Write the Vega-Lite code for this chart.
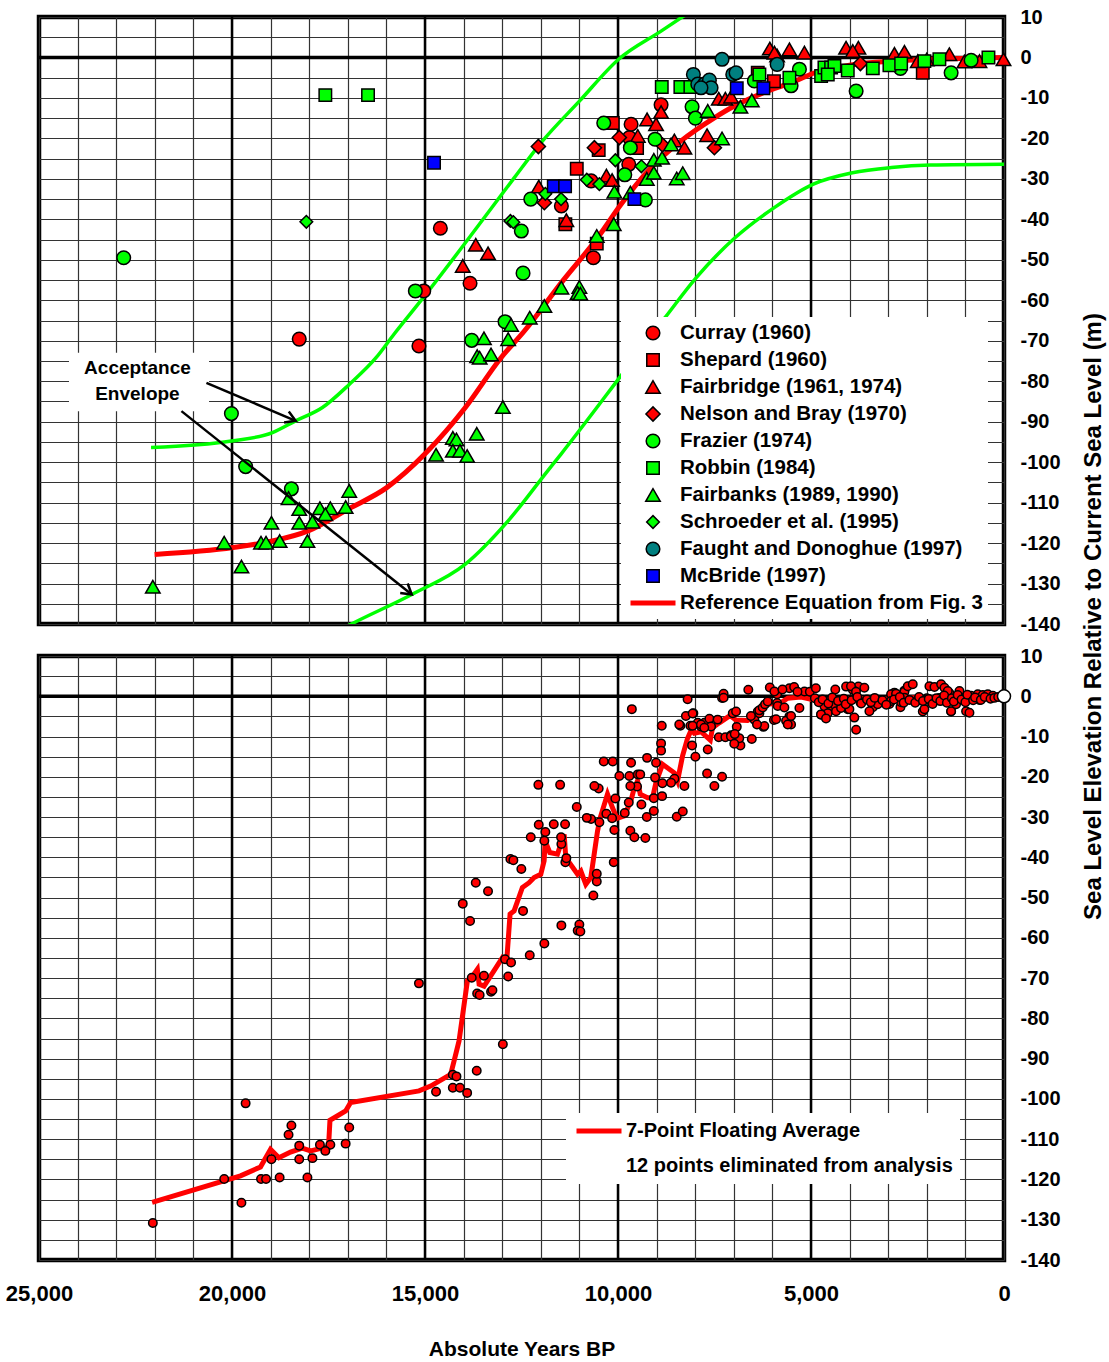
{
"$schema": "https://vega.github.io/schema/vega-lite/v6.json",
"padding": {"left": 3, "top": 4, "right": 5, "bottom": 5},
"bounds": "flush",
"spacing": 32,
"resolve": {
  "scale": {"color": "independent", "shape": "independent", "size": "independent", "stroke": "independent", "strokeWidth": "independent"},
  "legend": {"color": "independent", "shape": "independent", "size": "independent", "stroke": "independent", "strokeWidth": "independent"}
},
"config": {
  "font": "Liberation Sans",
  "view": {"stroke": "black", "strokeWidth": 4.5},
  "axis": {"labelFont": "Liberation Sans", "titleFont": "Liberation Sans", "labelColor": "black", "titleColor": "black"},
  "legend": {"labelFont": "Liberation Sans"}
},
"datasets": {
  "majors": [{"x":5000,"y":10,"y2":-140},{"x":10000,"y":10,"y2":-140},{"x":15000,"y":10,"y2":-140},{"x":20000,"y":10,"y2":-140}],
  "zero": [{"x":25000,"x2":0,"y":0}],
  "origin": [{"x":0,"y":0}],
  "lab": [{"x":22450,"y":-76.7,"t":"Acceptance\nEnvelope"}],
  "box": [{"x":24223,"x2":20595,"y":-73,"y2":-87.4}],
  "arrows": [{"x":20663,"y":-80.4,"x2":18351,"y2":-89.8},{"x":21310,"y":-87.4,"x2":15343,"y2":-132.7}],
  "heads": [{"k":"a","x":18351,"y":-89.8},{"k":"b","x":15343,"y":-132.7}],
  "env": [
    {"g":"u","x":22098,"y":-96.4},{"g":"u","x":20015,"y":-94.8},{"g":"u","x":18953,"y":-92.7},{"g":"u","x":18351,"y":-89.8},
    {"g":"u","x":17657,"y":-86.5},{"g":"u","x":16963,"y":-80.8},{"g":"u","x":16268,"y":-74.2},{"g":"u","x":15804,"y":-68.4},
    {"g":"u","x":15040,"y":-59.3},{"g":"u","x":13851,"y":-44.5},{"g":"u","x":12685,"y":-29.7},{"g":"u","x":11996,"y":-21.1},
    {"g":"u","x":11000,"y":-10.8},{"g":"u","x":9990,"y":-0.5},{"g":"u","x":8884,"y":6.5},{"g":"u","x":8100,"y":11.5},
    {"g":"l","x":17400,"y":-142.5},{"g":"l","x":17010,"y":-140.5},{"g":"l","x":15343,"y":-132.7},{"g":"l","x":13955,"y":-125.2},
    {"g":"l","x":12846,"y":-114.5},{"g":"l","x":11827,"y":-102.2},{"g":"l","x":11475,"y":-98},{"g":"l","x":9832,"y":-77.5},
    {"g":"l","x":8783,"y":-64.3},{"g":"l","x":7972,"y":-54.4},{"g":"l","x":6962,"y":-44.5},{"g":"l","x":5951,"y":-37.1},
    {"g":"l","x":4938,"y":-31.3},{"g":"l","x":3927,"y":-28.5},{"g":"l","x":2917,"y":-27.2},{"g":"l","x":1904,"y":-26.6},{"g":"l","x":0,"y":-26.4}
  ],
  "ref": [
    {"x":22005,"y":-122.8},{"x":19971,"y":-121.1},{"x":18953,"y":-119.5},{"x":18027,"y":-117},{"x":17010,"y":-111.7},
    {"x":15991,"y":-106.3},{"x":14973,"y":-97.7},{"x":13955,"y":-86.5},{"x":13030,"y":-74.2},{"x":12426,"y":-67.6},
    {"x":11431,"y":-55.2},{"x":10524,"y":-44.5},{"x":9920,"y":-36.3},{"x":9229,"y":-28.1},{"x":8366,"y":-20.6},
    {"x":7503,"y":-14.9},{"x":6985,"y":-12},{"x":6200,"y":-8.6},{"x":5447,"y":-6.0},{"x":4938,"y":-3.9},
    {"x":3927,"y":-1.8},{"x":2900,"y":-0.9},{"x":1904,"y":-0.45},{"x":0,"y":0}
  ],
  "avg": [
    {"lg":"7-Point Floating Average","x":22070,"y":-125.7},{"lg":"7-Point Floating Average","x":19780,"y":-119.1},
    {"lg":"7-Point Floating Average","x":19262,"y":-116.9},{"lg":"7-Point Floating Average","x":19002,"y":-112.5},
    {"lg":"7-Point Floating Average","x":18785,"y":-114.6},{"lg":"7-Point Floating Average","x":18484,"y":-113.2},
    {"lg":"7-Point Floating Average","x":18180,"y":-112.2},{"lg":"7-Point Floating Average","x":17965,"y":-112.9},
    {"lg":"7-Point Floating Average","x":17618,"y":-112.1},{"lg":"7-Point Floating Average","x":17500,"y":-112.0},
    {"lg":"7-Point Floating Average","x":17462,"y":-105.3},{"lg":"7-Point Floating Average","x":17056,"y":-103},
    {"lg":"7-Point Floating Average","x":16927,"y":-100.9},{"lg":"7-Point Floating Average","x":15154,"y":-98},
    {"lg":"7-Point Floating Average","x":14854,"y":-96.8},{"lg":"7-Point Floating Average","x":14335,"y":-93.9},
    {"lg":"7-Point Floating Average","x":14248,"y":-90.6},{"lg":"7-Point Floating Average","x":14118,"y":-85.6},
    {"lg":"7-Point Floating Average","x":13902,"y":-70.7},{"lg":"7-Point Floating Average","x":13798,"y":-69.9},
    {"lg":"7-Point Floating Average","x":13643,"y":-67.8},{"lg":"7-Point Floating Average","x":13598,"y":-71.5},
    {"lg":"7-Point Floating Average","x":13469,"y":-72},{"lg":"7-Point Floating Average","x":12994,"y":-64.9},
    {"lg":"7-Point Floating Average","x":12883,"y":-65.7},{"lg":"7-Point Floating Average","x":12796,"y":-54.1},
    {"lg":"7-Point Floating Average","x":12692,"y":-53.3},{"lg":"7-Point Floating Average","x":12477,"y":-47.5},
    {"lg":"7-Point Floating Average","x":12303,"y":-46.3},{"lg":"7-Point Floating Average","x":12173,"y":-45},
    {"lg":"7-Point Floating Average","x":12000,"y":-44.2},{"lg":"7-Point Floating Average","x":11914,"y":-40.9},
    {"lg":"7-Point Floating Average","x":11888,"y":-35.9},{"lg":"7-Point Floating Average","x":11768,"y":-38.8},
    {"lg":"7-Point Floating Average","x":11568,"y":-39.2},{"lg":"7-Point Floating Average","x":11395,"y":-34.3},
    {"lg":"7-Point Floating Average","x":11352,"y":-40.1},{"lg":"7-Point Floating Average","x":11049,"y":-44.2},
    {"lg":"7-Point Floating Average","x":10963,"y":-43.4},{"lg":"7-Point Floating Average","x":10834,"y":-46.7},
    {"lg":"7-Point Floating Average","x":10704,"y":-45},{"lg":"7-Point Floating Average","x":10531,"y":-33.5},
    {"lg":"7-Point Floating Average","x":10461,"y":-30.2},{"lg":"7-Point Floating Average","x":10272,"y":-24.3},
    {"lg":"7-Point Floating Average","x":10142,"y":-27.7},{"lg":"7-Point Floating Average","x":10030,"y":-30.3},
    {"lg":"7-Point Floating Average","x":9841,"y":-29.7},{"lg":"7-Point Floating Average","x":9667,"y":-26},
    {"lg":"7-Point Floating Average","x":9598,"y":-23.5},{"lg":"7-Point Floating Average","x":9494,"y":-21},
    {"lg":"7-Point Floating Average","x":9424,"y":-24.3},{"lg":"7-Point Floating Average","x":9235,"y":-25.2},
    {"lg":"7-Point Floating Average","x":9105,"y":-25.2},{"lg":"7-Point Floating Average","x":9019,"y":-21.5},
    {"lg":"7-Point Floating Average","x":8846,"y":-16.9},{"lg":"7-Point Floating Average","x":8543,"y":-19},
    {"lg":"7-Point Floating Average","x":8457,"y":-21},{"lg":"7-Point Floating Average","x":8327,"y":-14.8},
    {"lg":"7-Point Floating Average","x":8200,"y":-10.5},{"lg":"7-Point Floating Average","x":8100,"y":-8.3},
    {"lg":"7-Point Floating Average","x":8024,"y":-9.2},{"lg":"7-Point Floating Average","x":7850,"y":-8.8},
    {"lg":"7-Point Floating Average","x":7609,"y":-10.9},{"lg":"7-Point Floating Average","x":7550,"y":-7.8},
    {"lg":"7-Point Floating Average","x":7376,"y":-6.6},{"lg":"7-Point Floating Average","x":7100,"y":-4.8},
    {"lg":"7-Point Floating Average","x":6945,"y":-5.9},{"lg":"7-Point Floating Average","x":6642,"y":-6},
    {"lg":"7-Point Floating Average","x":6512,"y":-5.3},{"lg":"7-Point Floating Average","x":6382,"y":-3.7},
    {"lg":"7-Point Floating Average","x":6122,"y":-2},{"lg":"7-Point Floating Average","x":5778,"y":-1.6},
    {"lg":"7-Point Floating Average","x":5602,"y":-0.5},{"lg":"7-Point Floating Average","x":5258,"y":-0.2},
    {"lg":"7-Point Floating Average","x":4999,"y":-0.75},{"lg":"7-Point Floating Average","x":4653,"y":-1},
    {"lg":"7-Point Floating Average","x":3964,"y":-0.5},{"lg":"7-Point Floating Average","x":3271,"y":-0.75},
    {"lg":"7-Point Floating Average","x":2407,"y":-0.35},{"lg":"7-Point Floating Average","x":1706,"y":-0.35},
    {"lg":"7-Point Floating Average","x":929,"y":-1.2},{"lg":"7-Point Floating Average","x":418,"y":-0.35},
    {"lg":"7-Point Floating Average","x":0,"y":0}
  ],
  "pts": [
    {"s":"Curray (1960)","x":18258,"y":-69.6,"p":"t"},{"s":"Curray (1960)","x":15157,"y":-71.3,"p":"b"},
    {"s":"Curray (1960)","x":14602,"y":-42.2,"p":"t"},{"s":"Curray (1960)","x":13833,"y":-55.8,"p":"b"},
    {"s":"Curray (1960)","x":15033,"y":-57.7,"p":"t"},{"s":"Curray (1960)","x":11467,"y":-36.7,"p":"b"},
    {"s":"Curray (1960)","x":10697,"y":-30.5,"p":"b"},{"s":"Curray (1960)","x":10638,"y":-49.5,"p":"b"},
    {"s":"Curray (1960)","x":9721,"y":-26.4,"p":"b"},{"s":"Curray (1960)","x":9705,"y":-19.8,"p":"b"},
    {"s":"Curray (1960)","x":9661,"y":-16.5,"p":"b"},{"s":"Curray (1960)","x":8884,"y":-11.7,"p":"b"},
    {"s":"Shepard (1960)","x":11364,"y":-41.2,"p":"b"},{"s":"Shepard (1960)","x":10550,"y":-46.0,"p":"b"},
    {"s":"Shepard (1960)","x":11068,"y":-27.5,"p":"b"},{"s":"Shepard (1960)","x":10500,"y":-22.9,"p":"b"},
    {"s":"Shepard (1960)","x":10135,"y":-16.2,"p":"b"},{"s":"Shepard (1960)","x":9506,"y":-22.4,"p":"b"},
    {"s":"Shepard (1960)","x":6379,"y":-3.8,"p":"b"},{"s":"Shepard (1960)","x":5960,"y":-5.9,"p":"b"},
    {"s":"Shepard (1960)","x":2104,"y":-3.8,"p":"b"},
    {"s":"Fairbridge (1961, 1974)","x":13685,"y":-46.3,"p":"b"},{"s":"Fairbridge (1961, 1974)","x":13367,"y":-48.4,"p":"b"},
    {"s":"Fairbridge (1961, 1974)","x":14022,"y":-51.5,"p":"b"},{"s":"Fairbridge (1961, 1974)","x":12053,"y":-31.9,"p":"b"},
    {"s":"Fairbridge (1961, 1974)","x":11338,"y":-40.2,"p":"b"},{"s":"Fairbridge (1961, 1974)","x":10301,"y":-29.2,"p":"b"},
    {"s":"Fairbridge (1961, 1974)","x":10153,"y":-30.3,"p":"b"},{"s":"Fairbridge (1961, 1974)","x":9487,"y":-19.4,"p":"b"},
    {"s":"Fairbridge (1961, 1974)","x":9247,"y":-15.3,"p":"b"},{"s":"Fairbridge (1961, 1974)","x":9014,"y":-16.5,"p":"b"},
    {"s":"Fairbridge (1961, 1974)","x":8884,"y":-13.5,"p":"b"},{"s":"Fairbridge (1961, 1974)","x":8539,"y":-20.5,"p":"b"},
    {"s":"Fairbridge (1961, 1974)","x":8280,"y":-22.3,"p":"b"},{"s":"Fairbridge (1961, 1974)","x":7692,"y":-19.2,"p":"b"},
    {"s":"Fairbridge (1961, 1974)","x":7389,"y":-10.2,"p":"b"},{"s":"Fairbridge (1961, 1974)","x":7218,"y":-10.2,"p":"b"},
    {"s":"Fairbridge (1961, 1974)","x":7070,"y":-9.7,"p":"b"},{"s":"Fairbridge (1961, 1974)","x":6067,"y":2.2,"p":"b"},
    {"s":"Fairbridge (1961, 1974)","x":5878,"y":0.5,"p":"b"},{"s":"Fairbridge (1961, 1974)","x":5559,"y":2.0,"p":"b"},
    {"s":"Fairbridge (1961, 1974)","x":5171,"y":1.2,"p":"b"},{"s":"Fairbridge (1961, 1974)","x":5948,"y":1.2,"p":"b"},
    {"s":"Fairbridge (1961, 1974)","x":4091,"y":2.4,"p":"b"},{"s":"Fairbridge (1961, 1974)","x":3772,"y":2.4,"p":"b"},
    {"s":"Fairbridge (1961, 1974)","x":3917,"y":1.6,"p":"b"},{"s":"Fairbridge (1961, 1974)","x":2839,"y":0.9,"p":"b"},
    {"s":"Fairbridge (1961, 1974)","x":2580,"y":1.4,"p":"b"},{"s":"Fairbridge (1961, 1974)","x":2234,"y":-0.9,"p":"b"},
    {"s":"Fairbridge (1961, 1974)","x":2000,"y":-0.5,"p":"b"},{"s":"Fairbridge (1961, 1974)","x":1415,"y":0.8,"p":"b"},
    {"s":"Fairbridge (1961, 1974)","x":1025,"y":-1.0,"p":"b"},{"s":"Fairbridge (1961, 1974)","x":636,"y":-0.9,"p":"b"},
    {"s":"Fairbridge (1961, 1974)","x":13,"y":-0.45,"p":"b"},
    {"s":"Nelson and Bray (1970)","x":12063,"y":-22.0,"p":"b"},{"s":"Nelson and Bray (1970)","x":11908,"y":-35.9,"p":"b"},
    {"s":"Nelson and Bray (1970)","x":10612,"y":-22.3,"p":"b"},{"s":"Nelson and Bray (1970)","x":9965,"y":-19.8,"p":"b"},
    {"s":"Nelson and Bray (1970)","x":8850,"y":-21.6,"p":"b"},{"s":"Nelson and Bray (1970)","x":7503,"y":-22.3,"p":"b"},
    {"s":"Nelson and Bray (1970)","x":3720,"y":-1.5,"p":"b"},
    {"s":"Frazier (1974)","x":22806,"y":-49.5,"p":"t"},{"s":"Frazier (1974)","x":15250,"y":-57.7,"p":"t"},
    {"s":"Frazier (1974)","x":20015,"y":-88.0,"p":"t"},{"s":"Frazier (1974)","x":12260,"y":-35.0,"p":"b"},
    {"s":"Frazier (1974)","x":12504,"y":-42.9,"p":"b"},{"s":"Frazier (1974)","x":12460,"y":-53.3,"p":"b"},
    {"s":"Frazier (1974)","x":12926,"y":-65.3,"p":"b"},{"s":"Frazier (1974)","x":13789,"y":-69.9,"p":"b"},
    {"s":"Frazier (1974)","x":9291,"y":-35.2,"p":"b"},{"s":"Frazier (1974)","x":9825,"y":-29.0,"p":"b"},
    {"s":"Frazier (1974)","x":10369,"y":-16.2,"p":"b"},{"s":"Frazier (1974)","x":9680,"y":-22.3,"p":"b"},
    {"s":"Frazier (1974)","x":9040,"y":-20.2,"p":"b"},{"s":"Frazier (1974)","x":8081,"y":-12.2,"p":"b"},
    {"s":"Frazier (1974)","x":7995,"y":-15.0,"p":"b"},{"s":"Frazier (1974)","x":6467,"y":-5.8,"p":"b"},
    {"s":"Frazier (1974)","x":5516,"y":-7.0,"p":"b"},{"s":"Frazier (1974)","x":5300,"y":-2.9,"p":"b"},
    {"s":"Frazier (1974)","x":3831,"y":-8.3,"p":"b"},{"s":"Frazier (1974)","x":2683,"y":-2.7,"p":"b"},
    {"s":"Frazier (1974)","x":1370,"y":-3.8,"p":"b"},{"s":"Frazier (1974)","x":852,"y":-0.7,"p":"b"},
    {"s":"Frazier (1974)","x":19647,"y":-101.1,"p":"b"},{"s":"Frazier (1974)","x":18461,"y":-106.6,"p":"b"},
    {"s":"Robbin (1984)","x":17582,"y":-9.3,"p":"t"},{"s":"Robbin (1984)","x":16476,"y":-9.3,"p":"t"},
    {"s":"Robbin (1984)","x":8866,"y":-7.3,"p":"b"},{"s":"Robbin (1984)","x":8384,"y":-7.3,"p":"b"},
    {"s":"Robbin (1984)","x":8125,"y":-7.3,"p":"b"},{"s":"Robbin (1984)","x":6337,"y":-4.2,"p":"b"},
    {"s":"Robbin (1984)","x":5559,"y":-5.0,"p":"b"},{"s":"Robbin (1984)","x":4738,"y":-4.6,"p":"b"},
    {"s":"Robbin (1984)","x":4652,"y":-2.5,"p":"b"},{"s":"Robbin (1984)","x":4479,"y":-2.5,"p":"b"},
    {"s":"Robbin (1984)","x":4393,"y":-2.1,"p":"b"},{"s":"Robbin (1984)","x":4565,"y":-4.2,"p":"b"},
    {"s":"Robbin (1984)","x":4047,"y":-3.2,"p":"b"},{"s":"Robbin (1984)","x":3399,"y":-2.7,"p":"b"},
    {"s":"Robbin (1984)","x":2968,"y":-1.9,"p":"b"},{"s":"Robbin (1984)","x":2665,"y":-1.5,"p":"b"},
    {"s":"Robbin (1984)","x":2062,"y":-0.9,"p":"b"},{"s":"Robbin (1984)","x":1674,"y":-0.45,"p":"b"},
    {"s":"Robbin (1984)","x":403,"y":0,"p":"b"},
    {"s":"Fairbanks (1989, 1990)","x":22051,"y":-130.8,"p":"b"},{"s":"Fairbanks (1989, 1990)","x":20202,"y":-119.9,"p":"b"},
    {"s":"Fairbanks (1989, 1990)","x":19756,"y":-125.8,"p":"b"},{"s":"Fairbanks (1989, 1990)","x":19248,"y":-119.9,"p":"b"},
    {"s":"Fairbanks (1989, 1990)","x":19118,"y":-119.9,"p":"b"},{"s":"Fairbanks (1989, 1990)","x":18766,"y":-119.5,"p":"b"},
    {"s":"Fairbanks (1989, 1990)","x":18979,"y":-115.0,"p":"b"},{"s":"Fairbanks (1989, 1990)","x":18258,"y":-115.0,"p":"b"},
    {"s":"Fairbanks (1989, 1990)","x":17916,"y":-114.7,"p":"b"},{"s":"Fairbanks (1989, 1990)","x":18046,"y":-119.5,"p":"b"},
    {"s":"Fairbanks (1989, 1990)","x":18535,"y":-108.9,"p":"b"},{"s":"Fairbanks (1989, 1990)","x":18258,"y":-111.6,"p":"b"},
    {"s":"Fairbanks (1989, 1990)","x":17722,"y":-111.4,"p":"b"},{"s":"Fairbanks (1989, 1990)","x":17452,"y":-111.4,"p":"b"},
    {"s":"Fairbanks (1989, 1990)","x":17582,"y":-112.9,"p":"b"},{"s":"Fairbanks (1989, 1990)","x":17056,"y":-111.1,"p":"b"},
    {"s":"Fairbanks (1989, 1990)","x":16963,"y":-107.1,"p":"b"},{"s":"Fairbanks (1989, 1990)","x":14714,"y":-98.2,"p":"b"},
    {"s":"Fairbanks (1989, 1990)","x":14279,"y":-94.0,"p":"b"},{"s":"Fairbanks (1989, 1990)","x":14185,"y":-94.4,"p":"b"},
    {"s":"Fairbanks (1989, 1990)","x":14279,"y":-97.2,"p":"b"},{"s":"Fairbanks (1989, 1990)","x":14094,"y":-97.2,"p":"b"},
    {"s":"Fairbanks (1989, 1990)","x":13908,"y":-98.5,"p":"b"},{"s":"Fairbanks (1989, 1990)","x":13660,"y":-93.0,"p":"b"},
    {"s":"Fairbanks (1989, 1990)","x":12983,"y":-86.4,"p":"b"},{"s":"Fairbanks (1989, 1990)","x":13649,"y":-73.8,"p":"b"},
    {"s":"Fairbanks (1989, 1990)","x":13584,"y":-74.2,"p":"b"},{"s":"Fairbanks (1989, 1990)","x":13289,"y":-73.4,"p":"b"},
    {"s":"Fairbanks (1989, 1990)","x":13473,"y":-69.4,"p":"b"},{"s":"Fairbanks (1989, 1990)","x":12846,"y":-69.6,"p":"b"},
    {"s":"Fairbanks (1989, 1990)","x":12770,"y":-66.1,"p":"b"},{"s":"Fairbanks (1989, 1990)","x":12286,"y":-64.3,"p":"b"},
    {"s":"Fairbanks (1989, 1990)","x":11908,"y":-61.4,"p":"b"},{"s":"Fairbanks (1989, 1990)","x":11467,"y":-56.9,"p":"b"},
    {"s":"Fairbanks (1989, 1990)","x":11001,"y":-56.7,"p":"b"},{"s":"Fairbanks (1989, 1990)","x":11044,"y":-58.2,"p":"b"},
    {"s":"Fairbanks (1989, 1990)","x":10975,"y":-58.4,"p":"b"},{"s":"Fairbanks (1989, 1990)","x":10550,"y":-44.1,"p":"b"},
    {"s":"Fairbanks (1989, 1990)","x":10110,"y":-41.2,"p":"b"},{"s":"Fairbanks (1989, 1990)","x":9680,"y":-33.4,"p":"b"},
    {"s":"Fairbanks (1989, 1990)","x":10094,"y":-33.2,"p":"b"},{"s":"Fairbanks (1989, 1990)","x":9254,"y":-30.0,"p":"b"},
    {"s":"Fairbanks (1989, 1990)","x":9072,"y":-28.5,"p":"b"},{"s":"Fairbanks (1989, 1990)","x":9072,"y":-25.3,"p":"b"},
    {"s":"Fairbanks (1989, 1990)","x":8858,"y":-24.8,"p":"b"},{"s":"Fairbanks (1989, 1990)","x":8478,"y":-29.9,"p":"b"},
    {"s":"Fairbanks (1989, 1990)","x":8322,"y":-28.6,"p":"b"},{"s":"Fairbanks (1989, 1990)","x":8625,"y":-21.5,"p":"b"},
    {"s":"Fairbanks (1989, 1990)","x":7675,"y":-13.2,"p":"b"},{"s":"Fairbanks (1989, 1990)","x":7304,"y":-20.0,"p":"b"},
    {"s":"Fairbanks (1989, 1990)","x":6829,"y":-12.2,"p":"b"},{"s":"Fairbanks (1989, 1990)","x":6534,"y":-10.6,"p":"b"},
    {"s":"Schroeder et al. (1995)","x":18074,"y":-40.6,"p":"t"},{"s":"Schroeder et al. (1995)","x":12788,"y":-40.4,"p":"b"},
    {"s":"Schroeder et al. (1995)","x":12711,"y":-40.7,"p":"b"},{"s":"Schroeder et al. (1995)","x":11882,"y":-33.7,"p":"b"},
    {"s":"Schroeder et al. (1995)","x":11475,"y":-35.0,"p":"b"},{"s":"Schroeder et al. (1995)","x":10809,"y":-30.2,"p":"b"},
    {"s":"Schroeder et al. (1995)","x":10482,"y":-31.3,"p":"b"},{"s":"Schroeder et al. (1995)","x":10068,"y":-25.4,"p":"b"},
    {"s":"Schroeder et al. (1995)","x":9394,"y":-26.9,"p":"b"},
    {"s":"Faught and Donoghue (1997)","x":7304,"y":-0.45,"p":"b"},{"s":"Faught and Donoghue (1997)","x":8047,"y":-4.2,"p":"b"},
    {"s":"Faught and Donoghue (1997)","x":7933,"y":-6.6,"p":"b"},{"s":"Faught and Donoghue (1997)","x":7762,"y":-6.6,"p":"b"},
    {"s":"Faught and Donoghue (1997)","x":7632,"y":-5.6,"p":"b"},{"s":"Faught and Donoghue (1997)","x":7589,"y":-7.5,"p":"b"},
    {"s":"Faught and Donoghue (1997)","x":7850,"y":-7.5,"p":"b"},{"s":"Faught and Donoghue (1997)","x":7027,"y":-4.2,"p":"b"},
    {"s":"Faught and Donoghue (1997)","x":6941,"y":-3.8,"p":"b"},{"s":"Faught and Donoghue (1997)","x":5878,"y":-1.7,"p":"b"},
    {"s":"McBride (1997)","x":14766,"y":-26.0,"p":"t"},{"s":"McBride (1997)","x":11664,"y":-31.8,"p":"b"},
    {"s":"McBride (1997)","x":11371,"y":-31.8,"p":"b"},{"s":"McBride (1997)","x":9576,"y":-35.0,"p":"b"},
    {"s":"McBride (1997)","x":6923,"y":-7.6,"p":"b"},{"s":"McBride (1997)","x":6233,"y":-7.6,"p":"b"},
    {"s":"","x":9641,"y":-3.2,"p":"m"},{"s":"","x":8197,"y":-0.75,"p":"m"},{"s":"","x":7264,"y":0.6,"p":"m"},
    {"s":"","x":7264,"y":-0.35,"p":"m"},{"s":"","x":6624,"y":1.6,"p":"m"},{"s":"","x":11499,"y":-22,"p":"m"},
    {"s":"","x":6858,"y":-10.4,"p":"m"},{"s":"","x":9424,"y":-19.4,"p":"m"},{"s":"","x":13253,"y":-73,"p":"m"},
    {"s":"","x":5740,"y":1.7,"p":"m"},{"s":"","x":5437,"y":2.3,"p":"m"},{"s":"","x":5350,"y":1.1,"p":"m"},
    {"s":"","x":5030,"y":1.1,"p":"m"},{"s":"","x":4874,"y":2.0,"p":"m"},{"s":"","x":4371,"y":1.7,"p":"m"},
    {"s":"","x":3964,"y":2.5,"p":"m"},{"s":"","x":3834,"y":1.1,"p":"m"},{"s":"","x":3618,"y":2.1,"p":"m"},
    {"s":"","x":2926,"y":0.5,"p":"m"},{"s":"","x":2797,"y":0.6,"p":"m"},{"s":"","x":2580,"y":1.1,"p":"m"},
    {"s":"","x":2494,"y":2.5,"p":"m"},{"s":"","x":2364,"y":3.0,"p":"m"},{"s":"","x":1932,"y":2.5,"p":"m"},
    {"s":"","x":1802,"y":2.3,"p":"m"},{"s":"","x":1629,"y":3.0,"p":"m"},{"s":"","x":1543,"y":2.1,"p":"m"},
    {"s":"","x":1457,"y":1.3,"p":"m"},{"s":"","x":1154,"y":1.3,"p":"m"},{"s":"","x":852,"y":0.1,"p":"m"},
    {"s":"","x":679,"y":0.5,"p":"m"},{"s":"","x":549,"y":0.3,"p":"m"},{"s":"","x":419,"y":0.5,"p":"m"},
    {"s":"","x":289,"y":0.1,"p":"m"},{"s":"","x":4741,"y":-4.5,"p":"m"},{"s":"","x":4611,"y":-5.5,"p":"m"},
    {"s":"","x":4352,"y":-3.7,"p":"m"},{"s":"","x":4222,"y":-2.9,"p":"m"},{"s":"","x":4005,"y":-3.2,"p":"m"},
    {"s":"","x":3487,"y":-3.7,"p":"m"},{"s":"","x":3271,"y":-2.0,"p":"m"},{"s":"","x":2926,"y":-1.2,"p":"m"},
    {"s":"","x":2580,"y":-0.35,"p":"m"},{"s":"","x":2062,"y":-3.2,"p":"m"},{"s":"","x":1371,"y":-3.7,"p":"m"},
    {"s":"","x":1241,"y":-2.0,"p":"m"},{"s":"","x":982,"y":-3.7,"p":"m"},{"s":"","x":895,"y":-4.1,"p":"m"},
    {"s":"","x":3877,"y":-5.3,"p":"m"},{"s":"","x":8413,"y":-7.0,"p":"m"},{"s":"","x":8241,"y":-4.9,"p":"m"},
    {"s":"","x":8067,"y":-4.3,"p":"m"},{"s":"","x":8067,"y":-7.3,"p":"m"},{"s":"","x":7851,"y":-7.0,"p":"m"},
    {"s":"","x":7764,"y":-7.8,"p":"m"},{"s":"","x":7419,"y":-5.8,"p":"m"},{"s":"","x":7075,"y":-10.0,"p":"m"},
    {"s":"","x":6988,"y":-11.8,"p":"m"},{"s":"","x":6975,"y":-9.4,"p":"m"},{"s":"","x":6556,"y":-4.9,"p":"m"},
    {"s":"","x":6338,"y":-3.5,"p":"m"},{"s":"","x":6252,"y":-2.8,"p":"m"},{"s":"","x":6191,"y":-2.0,"p":"m"},
    {"s":"","x":6121,"y":-1.3,"p":"m"},{"s":"","x":5862,"y":-2.4,"p":"m"},{"s":"","x":5689,"y":-2.8,"p":"m"},
    {"s":"","x":5646,"y":-6.1,"p":"m"},{"s":"","x":5516,"y":-4.9,"p":"m"},{"s":"","x":5905,"y":-5.7,"p":"m"},
    {"s":"","x":5602,"y":-7.0,"p":"m"},{"s":"","x":6209,"y":-7.4,"p":"m"},{"s":"","x":6399,"y":-7.0,"p":"m"},
    {"s":"","x":4900,"y":-0.5,"p":"m"},{"s":"","x":4800,"y":-1.5,"p":"m"},{"s":"","x":4700,"y":-0.8,"p":"m"},
    {"s":"","x":4550,"y":-1.8,"p":"m"},{"s":"","x":4450,"y":-0.3,"p":"m"},{"s":"","x":4300,"y":-1.2,"p":"m"},
    {"s":"","x":4150,"y":-0.6,"p":"m"},{"s":"","x":4100,"y":-2.0,"p":"m"},{"s":"","x":3950,"y":-1.0,"p":"m"},
    {"s":"","x":3800,"y":-0.2,"p":"m"},{"s":"","x":3700,"y":-1.8,"p":"m"},{"s":"","x":3550,"y":-0.8,"p":"m"},
    {"s":"","x":3450,"y":-1.5,"p":"m"},{"s":"","x":3350,"y":-0.4,"p":"m"},{"s":"","x":3150,"y":-1.0,"p":"m"},
    {"s":"","x":3050,"y":-2.1,"p":"m"},{"s":"","x":2850,"y":-0.8,"p":"m"},{"s":"","x":2700,"y":-0.2,"p":"m"},
    {"s":"","x":2600,"y":-1.6,"p":"m"},{"s":"","x":2450,"y":-0.9,"p":"m"},{"s":"","x":2300,"y":-1.6,"p":"m"},
    {"s":"","x":2200,"y":-0.2,"p":"m"},{"s":"","x":2100,"y":-1.2,"p":"m"},{"s":"","x":1950,"y":-0.7,"p":"m"},
    {"s":"","x":1850,"y":-1.9,"p":"m"},{"s":"","x":1750,"y":-0.5,"p":"m"},{"s":"","x":1650,"y":-1.2,"p":"m"},
    {"s":"","x":1550,"y":0.2,"p":"m"},{"s":"","x":1480,"y":-1.6,"p":"m"},{"s":"","x":1350,"y":-0.5,"p":"m"},
    {"s":"","x":1300,"y":-1.3,"p":"m"},{"s":"","x":1200,"y":0.3,"p":"m"},{"s":"","x":1100,"y":-0.8,"p":"m"},
    {"s":"","x":1000,"y":-1.5,"p":"m"},{"s":"","x":950,"y":0.4,"p":"m"},{"s":"","x":800,"y":-1.0,"p":"m"},
    {"s":"","x":750,"y":-0.3,"p":"m"},{"s":"","x":600,"y":-0.9,"p":"m"},{"s":"","x":500,"y":-0.2,"p":"m"},
    {"s":"","x":350,"y":-0.6,"p":"m"},{"s":"","x":250,"y":-0.4,"p":"m"},{"s":"","x":150,"y":-0.2,"p":"m"}
  ]
},
"vconcat": [
  {
    "width": 965, "height": 607,
    "encoding": {
      "x": {"field": "x", "type": "quantitative",
        "scale": {"domain": [0, 25000], "reverse": true, "nice": false, "zero": false},
        "axis": {"values": [0,1000,2000,3000,4000,5000,6000,7000,8000,9000,10000,11000,12000,13000,14000,15000,16000,17000,18000,19000,20000,21000,22000,23000,24000,25000],
                 "grid": true, "gridColor": "#333333", "gridWidth": 1.2, "labels": false, "ticks": false, "domain": false, "title": null}},
      "y": {"field": "y", "type": "quantitative",
        "scale": {"domain": [-140, 10], "nice": false, "zero": false},
        "axis": {"orient": "right", "values": [10,5,0,-5,-10,-15,-20,-25,-30,-35,-40,-45,-50,-55,-60,-65,-70,-75,-80,-85,-90,-95,-100,-105,-110,-115,-120,-125,-130,-135,-140],
                 "grid": true, "gridColor": "#333333", "gridWidth": 1.2, "ticks": false, "domain": false,
                 "labelExpr": "datum.value % 10 === 0 ? '' + datum.value : ''", "labelOverlap": false,
                 "labelFontSize": 20, "labelFontWeight": "bold", "labelPadding": 16,
                 "title": "Sea Level Elevation Relative to Current Sea Level (m)",
                 "titleFontSize": 24, "titleFontWeight": "bold", "titleAngle": 270,
                 "titleX": 96, "titleY": 599, "titleAlign": "center", "titleBaseline": "alphabetic"}}
    },
    "layer": [
      {"data": {"name": "majors"}, "mark": {"type": "rule", "color": "black", "strokeWidth": 2.5},
       "encoding": {"y2": {"field": "y2"}}},
      {"data": {"name": "zero"}, "mark": {"type": "rule", "color": "black", "strokeWidth": 3.5},
       "encoding": {"x2": {"field": "x2"}}},
      {"data": {"name": "env"}, "mark": {"type": "line", "color": "#00FF00", "strokeWidth": 3.5, "interpolate": "monotone", "clip": true},
       "encoding": {"detail": {"field": "g"}}},
      {"data": {"name": "ref"}, "mark": {"type": "line", "color": "#FF0000", "strokeWidth": 5, "interpolate": "monotone", "clip": true}},
      {"data": {"name": "pts"}, "transform": [{"filter": "datum.p != 'm'"}],
       "mark": {"type": "point", "filled": true, "opacity": 1},
       "encoding": {
         "color": {"field": "s", "type": "nominal",
           "scale": {"domain": ["Curray (1960)","Shepard (1960)","Fairbridge (1961, 1974)","Nelson and Bray (1970)","Frazier (1974)","Robbin (1984)","Fairbanks (1989, 1990)","Schroeder et al. (1995)","Faught and Donoghue (1997)","McBride (1997)","Reference Equation from Fig. 3"],
                     "range": ["#FF0000","#FF0000","#FF0000","#FF0000","#00FF00","#00FF00","#00FF00","#00FF00","#008080","#0000FF","#FF0000"]},
           "legend": {"title": null, "orient": "none", "legendX": 582, "legendY": 300, "fillColor": "white", "padding": 5,
                      "labelFontSize": 20.5, "labelFontWeight": "bold", "labelColor": "black", "rowPadding": 5, "clipHeight": 22,
                      "symbolOffset": 2, "labelOffset": 2, "labelLimit": 400, "symbolOpacity": 1}},
         "shape": {"field": "s", "type": "nominal",
           "scale": {"domain": ["Curray (1960)","Shepard (1960)","Fairbridge (1961, 1974)","Nelson and Bray (1970)","Frazier (1974)","Robbin (1984)","Fairbanks (1989, 1990)","Schroeder et al. (1995)","Faught and Donoghue (1997)","McBride (1997)","Reference Equation from Fig. 3"],
                     "range": ["circle","square","triangle-up","diamond","circle","square","triangle-up","diamond","circle","square","stroke"]}},
         "stroke": {"field": "s", "type": "nominal",
           "scale": {"domain": ["Curray (1960)","Shepard (1960)","Fairbridge (1961, 1974)","Nelson and Bray (1970)","Frazier (1974)","Robbin (1984)","Fairbanks (1989, 1990)","Schroeder et al. (1995)","Faught and Donoghue (1997)","McBride (1997)","Reference Equation from Fig. 3"],
                     "range": ["black","black","black","black","black","black","black","black","black","black","#FF0000"]}},
         "strokeWidth": {"field": "s", "type": "nominal",
           "scale": {"type": "ordinal", "domain": ["Curray (1960)","Shepard (1960)","Fairbridge (1961, 1974)","Nelson and Bray (1970)","Frazier (1974)","Robbin (1984)","Fairbanks (1989, 1990)","Schroeder et al. (1995)","Faught and Donoghue (1997)","McBride (1997)","Reference Equation from Fig. 3"],
                     "range": [1.5,1.5,1.5,1.5,1.5,1.5,1.5,1.5,1.5,1.5,5]}},
         "size": {"field": "s", "type": "nominal",
           "scale": {"type": "ordinal", "domain": ["Curray (1960)","Shepard (1960)","Fairbridge (1961, 1974)","Nelson and Bray (1970)","Frazier (1974)","Robbin (1984)","Fairbanks (1989, 1990)","Schroeder et al. (1995)","Faught and Donoghue (1997)","McBride (1997)","Reference Equation from Fig. 3"],
                     "range": [185,155,210,200,185,155,210,160,185,155,2025]}}}},
      {"data": {"name": "box"}, "mark": {"type": "rect", "color": "white", "opacity": 1},
       "encoding": {"x2": {"field": "x2"}, "y2": {"field": "y2"}}},
      {"data": {"name": "lab"}, "mark": {"type": "text", "fontSize": 19, "fontWeight": "bold", "color": "black", "lineBreak": "\n", "lineHeight": 26, "baseline": "middle", "align": "center"},
       "encoding": {"text": {"field": "t"}}},
      {"data": {"name": "arrows"}, "mark": {"type": "rule", "color": "black", "strokeWidth": 2.5},
       "encoding": {"x2": {"field": "x2"}, "y2": {"field": "y2"}}},
      {"data": {"name": "heads"}, "transform": [{"filter": "datum.k == 'a'"}],
       "mark": {"type": "point", "shape": "M-1,-0.6L0,0L-1,0.6", "filled": false, "stroke": "black", "strokeWidth": 2.5, "size": 400, "angle": 23, "opacity": 1}},
      {"data": {"name": "heads"}, "transform": [{"filter": "datum.k == 'b'"}],
       "mark": {"type": "point", "shape": "M-1,-0.6L0,0L-1,0.6", "filled": false, "stroke": "black", "strokeWidth": 2.5, "size": 400, "angle": 38.5, "opacity": 1}}
    ]
  },
  {
    "width": 965, "height": 604,
    "encoding": {
      "x": {"field": "x", "type": "quantitative",
        "scale": {"domain": [0, 25000], "reverse": true, "nice": false, "zero": false},
        "axis": {"values": [0,1000,2000,3000,4000,5000,6000,7000,8000,9000,10000,11000,12000,13000,14000,15000,16000,17000,18000,19000,20000,21000,22000,23000,24000,25000],
                 "grid": true, "gridColor": "#333333", "gridWidth": 1.2, "ticks": false, "domain": false,
                 "labelExpr": "datum.value % 5000 === 0 ? format(datum.value, ',') : ''", "labelOverlap": false, "labelFlush": false,
                 "labelFontSize": 22, "labelFontWeight": "bold", "labelPadding": 23,
                 "title": "Absolute Years BP", "titleFontSize": 21, "titleFontWeight": "bold", "titlePadding": 34}},
      "y": {"field": "y", "type": "quantitative",
        "scale": {"domain": [-140, 10], "nice": false, "zero": false},
        "axis": {"orient": "right", "values": [10,5,0,-5,-10,-15,-20,-25,-30,-35,-40,-45,-50,-55,-60,-65,-70,-75,-80,-85,-90,-95,-100,-105,-110,-115,-120,-125,-130,-135,-140],
                 "grid": true, "gridColor": "#333333", "gridWidth": 1.2, "ticks": false, "domain": false,
                 "labelExpr": "datum.value % 10 === 0 ? '' + datum.value : ''", "labelOverlap": false,
                 "labelFontSize": 20, "labelFontWeight": "bold", "labelPadding": 16, "title": null}}
    },
    "layer": [
      {"data": {"name": "majors"}, "mark": {"type": "rule", "color": "black", "strokeWidth": 2.5},
       "encoding": {"y2": {"field": "y2"}}},
      {"data": {"name": "zero"}, "mark": {"type": "rule", "color": "black", "strokeWidth": 3.5},
       "encoding": {"x2": {"field": "x2"}}},
      {"data": {"name": "avg"}, "mark": {"type": "line", "strokeWidth": 5},
       "encoding": {
         "color": {"field": "lg", "type": "nominal",
           "scale": {"domain": ["7-Point Floating Average", "12 points eliminated from analysis"], "range": ["#FF0000", "rgba(0,0,0,0)"]},
           "legend": {"title": null, "orient": "none", "legendX": 527, "legendY": 457, "fillColor": "white", "padding": 7,
                      "labelFontSize": 20, "labelFontWeight": "bold", "labelColor": "black", "rowPadding": 13, "clipHeight": 22,
                      "symbolOffset": 1, "labelOffset": 2, "labelLimit": 500, "symbolType": "stroke", "symbolSize": 2025, "symbolStrokeWidth": 5}}}},
      {"data": {"name": "pts"}, "transform": [{"filter": "datum.p != 't'"}],
       "mark": {"type": "point", "shape": "circle", "filled": true, "fill": "#FF0000", "stroke": "black", "strokeWidth": 1.5, "size": 72, "opacity": 1}},
      {"data": {"name": "origin"},
       "mark": {"type": "point", "shape": "circle", "filled": true, "fill": "white", "stroke": "black", "strokeWidth": 1.5, "size": 170, "opacity": 1}}
    ]
  }
]
}
